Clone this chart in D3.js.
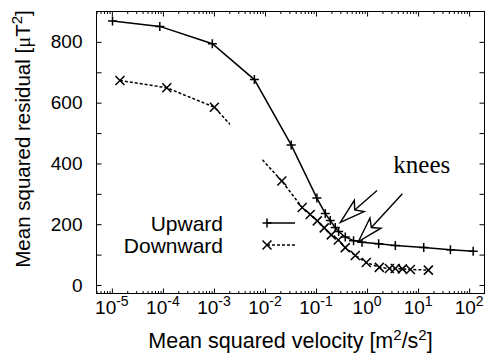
<!DOCTYPE html>
<html>
<head>
<meta charset="utf-8">
<script src="https://cdn.jsdelivr.net/npm/d3@7"></script>
<style>
  html, body { margin: 0; padding: 0; background: #fff; }
  svg { display: block; font-family: "Liberation Sans", Arial, sans-serif; }
</style>
</head>
<body>
<div id="chart"></div>
<script>
// values
const upwardX = [1.03e-5, 8.7e-5, 9.3e-4, 0.0062, 0.0326, 0.104, 0.152, 0.19, 0.238, 0.277, 0.374, 0.544, 0.796, 1.69, 3.58, 12.9, 43, 120];
const upwardY = [869, 851, 794, 676, 461, 286, 235, 212, 189, 176, 158, 146, 141, 136, 130, 123, 116, 111];

const downwardX = [1.44e-5, 1.19e-4, 1.02e-3, 0.0214, 0.0536, 0.0769, 0.106, 0.145, 0.199, 0.273, 0.374, 0.588, 0.966, 1.74, 2.74, 3.58, 4.92, 7.06, 15.9];
const downwardY = [673, 649, 585, 342, 255, 232, 211, 188, 165, 148, 123, 97, 74, 58, 54, 54, 53, 51, 49];
// the dashed line is broken between these x values in the original
const downwardGap = [0.00207, 0.0088];

const xDecades = [-5, -4, -3, -2, -1, 0, 1, 2];
const yTicks = [0, 100, 200, 300, 400, 500, 600, 700, 800];
const yLabelTicks = [0, 200, 400, 600, 800];

// knee arrows: [tailX, tailY, tipX, tipY] in data units
const kneeArrows = [
  [1.57, 311, 0.30, 206],
  [4.92, 300, 0.68, 143],
];
const kneeLabel = { text: "knees", x: 3.27, y: 370 };

const width = 485;
const height = 354;
const frame = { left: 96.5, right: 484.5, top: 11.5, bottom: 293.5 };

const xScale = d3.scaleLog([5e-6, 200], [frame.left, frame.right]);
const yScale = d3.scaleLinear([-28, 900], [frame.bottom, frame.top]);

const upward = upwardX.map((x, i) => ({ x, y: upwardY[i] }));
const downward = downwardX.map((x, i) => ({ x, y: downwardY[i] }));

const svg = d3
  .select("#chart")
  .append("svg")
  .attr("width", width)
  .attr("height", height)
  .attr("viewBox", `0 0 ${width} ${height}`);

// clip paths that leave the gap in the downward curve
const defs = svg.append("defs");
const gapClip = defs.append("clipPath").attr("id", "gap-clip");
gapClip
  .append("rect")
  .attr("x", frame.left)
  .attr("y", frame.top)
  .attr("width", xScale(downwardGap[0]) - frame.left)
  .attr("height", frame.bottom - frame.top);
gapClip
  .append("rect")
  .attr("x", xScale(downwardGap[1]))
  .attr("y", frame.top)
  .attr("width", frame.right - xScale(downwardGap[1]))
  .attr("height", frame.bottom - frame.top);

// axes (ticks point inward, gnuplot style)
const decadeValues = xDecades.map((d) => Math.pow(10, d));
const minorValues = [];
xDecades.forEach((d) => {
  for (let m = 2; m <= 9; m++) {
    const v = m * Math.pow(10, d);
    if (v <= 200) minorValues.push(v);
  }
});
minorValues.unshift(5e-6, 6e-6, 7e-6, 8e-6, 9e-6);

const axisG = svg.append("g").attr("class", "axes");

axisG
  .append("g")
  .attr("transform", `translate(0, ${frame.bottom})`)
  .call(d3.axisBottom(xScale).tickValues(decadeValues).tickSizeInner(-5).tickSizeOuter(0).tickFormat(""));
axisG
  .append("g")
  .attr("transform", `translate(0, ${frame.bottom})`)
  .call(d3.axisBottom(xScale).tickValues(minorValues).tickSizeInner(-2.5).tickSizeOuter(0).tickFormat(""));
axisG
  .append("g")
  .attr("transform", `translate(0, ${frame.top})`)
  .call(d3.axisTop(xScale).tickValues(decadeValues).tickSizeInner(-5).tickSizeOuter(0).tickFormat(""));
axisG
  .append("g")
  .attr("transform", `translate(0, ${frame.top})`)
  .call(d3.axisTop(xScale).tickValues(minorValues).tickSizeInner(-2.5).tickSizeOuter(0).tickFormat(""));

axisG
  .append("g")
  .attr("transform", `translate(${frame.left}, 0)`)
  .call(
    d3
      .axisLeft(yScale)
      .tickValues(yTicks)
      .tickSizeInner(-5)
      .tickSizeOuter(0)
      .tickPadding(14)
      .tickFormat((d) => (yLabelTicks.includes(d) ? d : "")),
  )
  .style("font-size", "19px");
axisG
  .append("g")
  .attr("transform", `translate(${frame.right}, 0)`)
  .call(d3.axisRight(yScale).tickValues(yTicks).tickSizeInner(-5).tickSizeOuter(0).tickFormat(""));

axisG.selectAll(".domain").remove();
axisG.selectAll(".tick line").attr("stroke", "#000").attr("stroke-width", 1);
axisG
  .selectAll("text")
  .attr("fill", "#000")
  .style("font-family", '"Liberation Sans", Arial, sans-serif');

// x tick labels with superscript exponents
const xLabels = svg
  .append("g")
  .selectAll("text")
  .data(xDecades)
  .join("text")
  .attr("x", (d) => xScale(Math.pow(10, d)))
  .attr("y", 314)
  .attr("text-anchor", "middle")
  .style("font-size", "19px");
xLabels.append("tspan").text("10");
xLabels
  .append("tspan")
  .attr("dy", -8)
  .style("font-size", "14px")
  .text((d) => (d < 0 ? "-" + Math.abs(d) : d));

// frame
svg
  .append("rect")
  .attr("x", frame.left)
  .attr("y", frame.top)
  .attr("width", frame.right - frame.left)
  .attr("height", frame.bottom - frame.top)
  .attr("fill", "none")
  .attr("stroke", "#000")
  .attr("stroke-width", 1);

// axis titles
const yTitle = svg
  .append("text")
  .attr("transform", "translate(30, 139) rotate(-90)")
  .attr("text-anchor", "middle")
  .style("font-size", "20.5px");
yTitle.append("tspan").text("Mean squared residual [");
yTitle.append("tspan").style("font-family", '"Liberation Serif", serif').text("μ");
yTitle.append("tspan").text("T");
yTitle.append("tspan").attr("dy", -8).style("font-size", "15px").text("2");
yTitle.append("tspan").attr("dy", 8).text("]");

const xTitle = svg
  .append("text")
  .attr("x", (frame.left + frame.right) / 2)
  .attr("y", 348)
  .attr("text-anchor", "middle")
  .style("font-size", "21.5px");
xTitle.append("tspan").text("Mean squared velocity [m");
xTitle.append("tspan").attr("dy", -8).style("font-size", "15px").text("2");
xTitle.append("tspan").attr("dy", 8).text("/s");
xTitle.append("tspan").attr("dy", -8).style("font-size", "15px").text("2");
xTitle.append("tspan").attr("dy", 8).text("]");

// series
const line = d3
  .line()
  .x((d) => xScale(d.x))
  .y((d) => yScale(d.y));

const plusPath = "M-4.5,0H4.5M0,-4.5V4.5";
const crossPath = "M-4.5,-4.5L4.5,4.5M-4.5,4.5L4.5,-4.5";

const plot = svg.append("g").attr("class", "series");

plot
  .append("path")
  .datum(upward)
  .attr("d", line)
  .attr("fill", "none")
  .attr("stroke", "#000")
  .attr("stroke-width", 1.5);

plot
  .append("path")
  .datum(downward)
  .attr("d", line)
  .attr("fill", "none")
  .attr("stroke", "#000")
  .attr("stroke-width", 1.5)
  .attr("stroke-dasharray", "3,2")
  .attr("clip-path", "url(#gap-clip)");

plot
  .append("g")
  .selectAll("path")
  .data(upward)
  .join("path")
  .attr("transform", (d) => `translate(${xScale(d.x)}, ${yScale(d.y)})`)
  .attr("d", plusPath)
  .attr("stroke", "#000")
  .attr("stroke-width", 1.5);

plot
  .append("g")
  .selectAll("path")
  .data(downward)
  .join("path")
  .attr("transform", (d) => `translate(${xScale(d.x)}, ${yScale(d.y)})`)
  .attr("d", crossPath)
  .attr("stroke", "#000")
  .attr("stroke-width", 1.5);

// legend
const legend = svg.append("g").style("font-size", "21px");
const legendRows = [
  { name: "Upward", y: 223, marker: plusPath, dash: null },
  { name: "Downward", y: 245, marker: crossPath, dash: "3,2" },
];
legendRows.forEach((r) => {
  legend
    .append("text")
    .attr("x", 223)
    .attr("y", r.y)
    .attr("dy", "0.36em")
    .attr("text-anchor", "end")
    .text(r.name);
  legend
    .append("line")
    .attr("x1", 267)
    .attr("x2", 295)
    .attr("y1", r.y)
    .attr("y2", r.y)
    .attr("stroke", "#000")
    .attr("stroke-width", 1.5)
    .attr("stroke-dasharray", r.dash);
  legend
    .append("path")
    .attr("transform", `translate(267, ${r.y})`)
    .attr("d", r.marker)
    .attr("stroke", "#000")
    .attr("stroke-width", 1.5);
});

// knee annotations
svg
  .append("text")
  .attr("x", xScale(kneeLabel.x))
  .attr("y", yScale(kneeLabel.y))
  .style("font-family", '"Liberation Serif", "Times New Roman", serif')
  .style("font-size", "25px")
  .text(kneeLabel.text);

const headLen = 25;
const headHalf = 7.5;
kneeArrows.forEach(([tx, ty, hx, hy]) => {
  const x0 = xScale(tx), y0 = yScale(ty);
  const x1 = xScale(hx), y1 = yScale(hy);
  const len = Math.hypot(x1 - x0, y1 - y0);
  const ux = (x1 - x0) / len, uy = (y1 - y0) / len;
  const bx = x1 - ux * headLen, by = y1 - uy * headLen;
  const nx = -uy, ny = ux;
  const notchX = bx + ux * 6, notchY = by + uy * 6;
  svg
    .append("line")
    .attr("x1", x0)
    .attr("y1", y0)
    .attr("x2", notchX)
    .attr("y2", notchY)
    .attr("stroke", "#000")
    .attr("stroke-width", 1.4);
  svg
    .append("path")
    .attr(
      "d",
      `M${x1},${y1}L${bx + nx * headHalf},${by + ny * headHalf}L${notchX},${notchY}L${bx - nx * headHalf},${by - ny * headHalf}Z`,
    )
    .attr("fill", "#fff")
    .attr("stroke", "#000")
    .attr("stroke-width", 1.4)
    .attr("stroke-linejoin", "miter");
});
</script>
</body>
</html>
